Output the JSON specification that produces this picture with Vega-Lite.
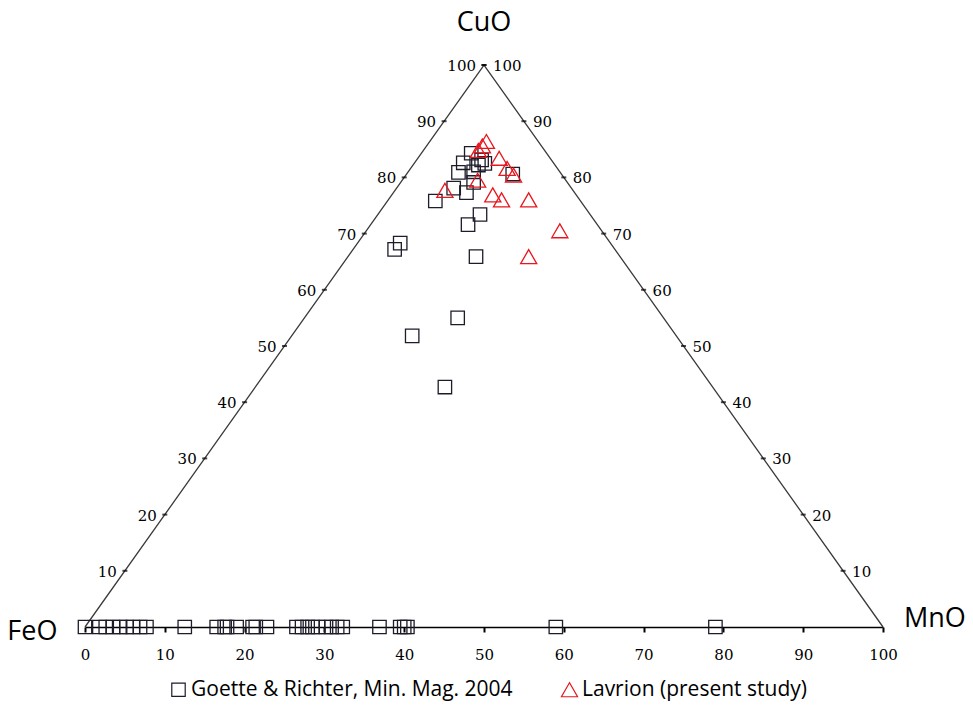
{
  "$schema": "https://vega.github.io/schema/vega-lite/v6.json",
  "width": 798,
  "height": 562,
  "autosize": {"type": "none"},
  "padding": {"left": 85, "top": 65, "right": 90, "bottom": 80},
  "background": "white",
  "config": {"view": {"stroke": null}},
  "datasets": {
    "edges": [
      {"x": 0, "y": 0},
      {"x": 50, "y": 100},
      {"x": 100, "y": 0}
    ],
    "leftTicks": [
      {"x": 5, "y": 10, "label": "10"},
      {"x": 10, "y": 20, "label": "20"},
      {"x": 15, "y": 30, "label": "30"},
      {"x": 20, "y": 40, "label": "40"},
      {"x": 25, "y": 50, "label": "50"},
      {"x": 30, "y": 60, "label": "60"},
      {"x": 35, "y": 70, "label": "70"},
      {"x": 40, "y": 80, "label": "80"},
      {"x": 45, "y": 90, "label": "90"},
      {"x": 50, "y": 100, "label": "100"}
    ],
    "rightTicks": [
      {"x": 95, "y": 10, "label": "10"},
      {"x": 90, "y": 20, "label": "20"},
      {"x": 85, "y": 30, "label": "30"},
      {"x": 80, "y": 40, "label": "40"},
      {"x": 75, "y": 50, "label": "50"},
      {"x": 70, "y": 60, "label": "60"},
      {"x": 65, "y": 70, "label": "70"},
      {"x": 60, "y": 80, "label": "80"},
      {"x": 55, "y": 90, "label": "90"},
      {"x": 50, "y": 100, "label": "100"}
    ],
    "corners": [
      {"x": 50, "y": 106, "label": "CuO"},
      {"x": -6.6, "y": -2.3, "label": "FeO"},
      {"x": 106.5, "y": 0, "label": "MnO"}
    ],
    "points": [
      {"series": "Goette & Richter, Min. Mag. 2004", "x": 0, "y": 0},
      {"series": "Goette & Richter, Min. Mag. 2004", "x": 1.8, "y": 0},
      {"series": "Goette & Richter, Min. Mag. 2004", "x": 2.6, "y": 0},
      {"series": "Goette & Richter, Min. Mag. 2004", "x": 3.5, "y": 0},
      {"series": "Goette & Richter, Min. Mag. 2004", "x": 4.4, "y": 0},
      {"series": "Goette & Richter, Min. Mag. 2004", "x": 5.2, "y": 0},
      {"series": "Goette & Richter, Min. Mag. 2004", "x": 6.0, "y": 0},
      {"series": "Goette & Richter, Min. Mag. 2004", "x": 6.9, "y": 0},
      {"series": "Goette & Richter, Min. Mag. 2004", "x": 7.7, "y": 0},
      {"series": "Goette & Richter, Min. Mag. 2004", "x": 12.5, "y": 0},
      {"series": "Goette & Richter, Min. Mag. 2004", "x": 16.5, "y": 0},
      {"series": "Goette & Richter, Min. Mag. 2004", "x": 17.5, "y": 0},
      {"series": "Goette & Richter, Min. Mag. 2004", "x": 17.8, "y": 0},
      {"series": "Goette & Richter, Min. Mag. 2004", "x": 19.0, "y": 0},
      {"series": "Goette & Richter, Min. Mag. 2004", "x": 21.0, "y": 0},
      {"series": "Goette & Richter, Min. Mag. 2004", "x": 21.4, "y": 0},
      {"series": "Goette & Richter, Min. Mag. 2004", "x": 22.8, "y": 0},
      {"series": "Goette & Richter, Min. Mag. 2004", "x": 26.5, "y": 0},
      {"series": "Goette & Richter, Min. Mag. 2004", "x": 27.2, "y": 0},
      {"series": "Goette & Richter, Min. Mag. 2004", "x": 27.9, "y": 0},
      {"series": "Goette & Richter, Min. Mag. 2004", "x": 28.5, "y": 0},
      {"series": "Goette & Richter, Min. Mag. 2004", "x": 29.2, "y": 0},
      {"series": "Goette & Richter, Min. Mag. 2004", "x": 30.2, "y": 0},
      {"series": "Goette & Richter, Min. Mag. 2004", "x": 30.9, "y": 0},
      {"series": "Goette & Richter, Min. Mag. 2004", "x": 31.6, "y": 0},
      {"series": "Goette & Richter, Min. Mag. 2004", "x": 32.3, "y": 0},
      {"series": "Goette & Richter, Min. Mag. 2004", "x": 36.9, "y": 0},
      {"series": "Goette & Richter, Min. Mag. 2004", "x": 39.5, "y": 0},
      {"series": "Goette & Richter, Min. Mag. 2004", "x": 40.0, "y": 0},
      {"series": "Goette & Richter, Min. Mag. 2004", "x": 40.4, "y": 0},
      {"series": "Goette & Richter, Min. Mag. 2004", "x": 59.0, "y": 0},
      {"series": "Goette & Richter, Min. Mag. 2004", "x": 79.0, "y": 0},
      {"series": "Goette & Richter, Min. Mag. 2004", "x": 45.1, "y": 42.7},
      {"series": "Goette & Richter, Min. Mag. 2004", "x": 41.0, "y": 51.8},
      {"series": "Goette & Richter, Min. Mag. 2004", "x": 46.7, "y": 55.0},
      {"series": "Goette & Richter, Min. Mag. 2004", "x": 49.0, "y": 65.9},
      {"series": "Goette & Richter, Min. Mag. 2004", "x": 38.8, "y": 67.2},
      {"series": "Goette & Richter, Min. Mag. 2004", "x": 39.5, "y": 68.3},
      {"series": "Goette & Richter, Min. Mag. 2004", "x": 48.0, "y": 71.6},
      {"series": "Goette & Richter, Min. Mag. 2004", "x": 49.5, "y": 73.4},
      {"series": "Goette & Richter, Min. Mag. 2004", "x": 43.9, "y": 75.8},
      {"series": "Goette & Richter, Min. Mag. 2004", "x": 46.2, "y": 78.1},
      {"series": "Goette & Richter, Min. Mag. 2004", "x": 47.8, "y": 77.3},
      {"series": "Goette & Richter, Min. Mag. 2004", "x": 48.7, "y": 79.1},
      {"series": "Goette & Richter, Min. Mag. 2004", "x": 46.8, "y": 80.9},
      {"series": "Goette & Richter, Min. Mag. 2004", "x": 48.7, "y": 81.0},
      {"series": "Goette & Richter, Min. Mag. 2004", "x": 53.6, "y": 80.6},
      {"series": "Goette & Richter, Min. Mag. 2004", "x": 47.4, "y": 82.6},
      {"series": "Goette & Richter, Min. Mag. 2004", "x": 48.4, "y": 84.3},
      {"series": "Goette & Richter, Min. Mag. 2004", "x": 49.7, "y": 83.1},
      {"series": "Goette & Richter, Min. Mag. 2004", "x": 50.1, "y": 82.5},
      {"series": "Goette & Richter, Min. Mag. 2004", "x": 49.3, "y": 82.2},
      {"series": "Lavrion (present study)", "x": 50.3, "y": 86.4},
      {"series": "Lavrion (present study)", "x": 49.8, "y": 85.6},
      {"series": "Lavrion (present study)", "x": 49.3, "y": 84.8},
      {"series": "Lavrion (present study)", "x": 51.9, "y": 83.4},
      {"series": "Lavrion (present study)", "x": 52.9, "y": 81.6},
      {"series": "Lavrion (present study)", "x": 53.7, "y": 80.4},
      {"series": "Lavrion (present study)", "x": 49.2, "y": 79.5},
      {"series": "Lavrion (present study)", "x": 45.1, "y": 77.7},
      {"series": "Lavrion (present study)", "x": 51.1, "y": 76.9},
      {"series": "Lavrion (present study)", "x": 52.2, "y": 76.0},
      {"series": "Lavrion (present study)", "x": 55.6, "y": 76.0},
      {"series": "Lavrion (present study)", "x": 59.5, "y": 70.5},
      {"series": "Lavrion (present study)", "x": 55.6, "y": 65.9}
    ]
  },
  "encoding": {
    "x": {"field": "x", "type": "quantitative", "scale": {"domain": [0, 100], "nice": false, "zero": false},
      "axis": {"values": [0, 10, 20, 30, 40, 50, 60, 70, 80, 90, 100], "title": null, "grid": false,
        "domainColor": "black", "domainWidth": 1.6, "tickColor": "black", "tickWidth": 2, "tickSize": 5,
        "labelFont": "DejaVu Serif", "labelFontSize": 15, "labelColor": "black", "labelPadding": 15,
        "labelFlush": false, "labelOverlap": false}},
    "y": {"field": "y", "type": "quantitative", "scale": {"domain": [0, 100], "nice": false, "zero": false}, "axis": null}
  },
  "layer": [
    {
      "data": {"name": "edges"},
      "mark": {"type": "line", "color": "#3a3a3a", "strokeWidth": 1.3},
      "encoding": {}
    },
    {
      "data": {"name": "leftTicks"},
      "mark": {"type": "point", "shape": "stroke", "size": 25, "color": "black", "strokeWidth": 2, "filled": false}
    },
    {
      "data": {"name": "rightTicks"},
      "mark": {"type": "point", "shape": "stroke", "size": 25, "color": "black", "strokeWidth": 2, "filled": false}
    },
    {
      "data": {"name": "leftTicks"},
      "mark": {"type": "text", "align": "right", "baseline": "middle", "dx": -8, "dy": 1, "font": "DejaVu Serif", "fontSize": 15, "color": "black"},
      "encoding": {"text": {"field": "label"}}
    },
    {
      "data": {"name": "rightTicks"},
      "mark": {"type": "text", "align": "left", "baseline": "middle", "dx": 9, "dy": 1, "font": "DejaVu Serif", "fontSize": 15, "color": "black"},
      "encoding": {"text": {"field": "label"}}
    },
    {
      "data": {"name": "corners"},
      "mark": {"type": "text", "align": "center", "baseline": "alphabetic", "font": "Open Sans", "fontSize": 27, "color": "black"},
      "encoding": {"text": {"field": "label"}}
    },
    {
      "data": {"name": "points"},
      "mark": {"type": "point", "filled": false, "strokeWidth": 1.3, "opacity": 1},
      "encoding": {
        "size": {"field": "series", "type": "nominal",
          "scale": {"domain": ["Goette & Richter, Min. Mag. 2004", "Lavrion (present study)"], "range": [180, 260]},
          "legend": null},
        "color": {"field": "series", "type": "nominal",
          "scale": {"domain": ["Goette & Richter, Min. Mag. 2004", "Lavrion (present study)"], "range": ["#1c1c2a", "#e8161e"]},
          "legend": {"title": null, "orient": "none", "legendX": 83, "legendY": 614, "direction": "horizontal",
            "labelFont": "Open Sans", "labelFontSize": 21, "labelColor": "black", "symbolSize": 150, "symbolStrokeWidth": 1.2,
            "columnPadding": 46, "labelOffset": 2, "padding": 0, "labelLimit": 500}},
        "shape": {"field": "series", "type": "nominal",
          "scale": {"domain": ["Goette & Richter, Min. Mag. 2004", "Lavrion (present study)"], "range": ["square", "triangle-up"]},
          "legend": {"title": null, "orient": "none", "legendX": 83, "legendY": 614, "direction": "horizontal",
            "labelFont": "Open Sans", "labelFontSize": 21, "labelColor": "black", "symbolSize": 150, "symbolStrokeWidth": 1.2,
            "columnPadding": 46, "labelOffset": 2, "padding": 0, "labelLimit": 500}}
      }
    }
  ]
}
